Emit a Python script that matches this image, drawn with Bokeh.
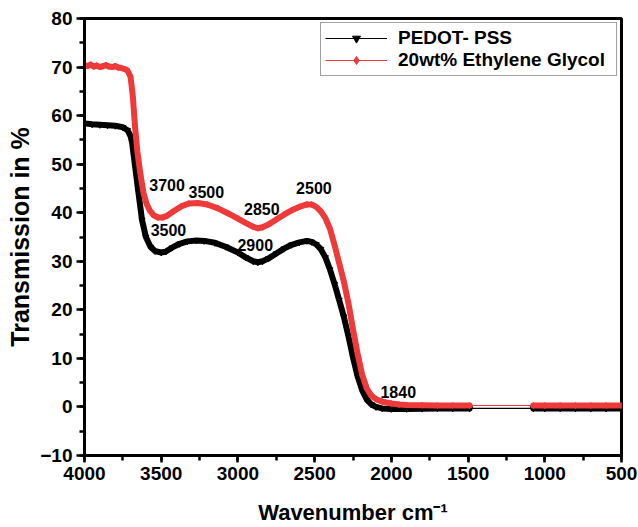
import numpy as np
from bokeh.plotting import figure
from bokeh.models import Range1d, SingleIntervalTicker, Legend, LegendItem, ColumnDataSource
from bokeh.core.properties import value
from bokeh.embed import file_html
from bokeh.resources import INLINE

# ---------------- data ----------------
wn_pedot = [4000, 3950, 3900, 3850, 3800, 3750, 3720, 3700, 3690, 3670, 3650, 3625,
            3600, 3570, 3540, 3500, 3470, 3430, 3380, 3330, 3270, 3220, 3150, 3080,
            3000, 2950, 2900, 2870, 2840, 2800, 2750, 2700, 2650, 2600, 2550, 2520,
            2490, 2460, 2430, 2400, 2370, 2340, 2310, 2280, 2250, 2220, 2190, 2160,
            2130, 2100, 2060, 2000, 1900, 1800, 1700, 1600, 1490,
            1075, 1000, 900, 800, 700, 600, 500]
t_pedot = [58.4, 58.2, 58.1, 58.0, 57.9, 57.6, 57.0, 55.8, 54.5, 49.5, 44.5, 38.5,
           35.0, 33.0, 32.1, 31.8, 32.0, 32.8, 33.6, 34.1, 34.3, 34.2, 33.8, 33.0,
           31.8, 30.8, 30.0, 29.8, 30.0, 30.6, 31.6, 32.6, 33.4, 33.9, 34.2, 34.0,
           33.5, 32.5, 30.8, 28.3, 25.3, 22.0, 18.6, 14.6, 10.2, 6.3, 3.4, 1.5,
           0.5, 0.0, -0.3, -0.4, -0.4, -0.35, -0.3, -0.3, -0.3,
           -0.3, -0.3, -0.3, -0.3, -0.3, -0.3, -0.3]

wn_eg = [4000, 3980, 3960, 3940, 3920, 3900, 3880, 3860, 3840, 3820, 3800, 3780,
         3760, 3740, 3720, 3700, 3685, 3670, 3655, 3635, 3615, 3595, 3575, 3550,
         3520, 3490, 3460, 3420, 3370, 3320, 3260, 3200, 3130, 3060, 3000, 2950,
         2900, 2870, 2840, 2800, 2750, 2700, 2650, 2600, 2550, 2520, 2490, 2460,
         2430, 2400, 2370, 2340, 2310, 2280, 2250, 2220, 2190, 2160, 2130, 2100,
         2060, 2000, 1950, 1900, 1800, 1700, 1600, 1490,
         1075, 1000, 900, 800, 700, 600, 500]
t_eg = [70.4, 70.2, 70.5, 70.1, 70.3, 70.0, 70.2, 70.4, 70.1, 70.0, 70.2, 69.9,
        69.8, 69.6, 69.3, 68.0, 64.0, 57.5, 52.5, 47.8, 44.0, 41.8, 40.5, 39.5,
        39.0, 39.0, 39.4, 40.3, 41.3, 41.9, 42.0, 41.7, 40.9, 39.8, 38.8, 37.9,
        37.1, 36.8, 37.0, 37.6, 38.6, 39.6, 40.5, 41.2, 41.7, 41.7, 41.2, 40.3,
        38.9, 36.7, 33.3, 29.6, 25.9, 21.4, 16.0, 11.0, 6.6, 3.8, 2.3, 1.6,
        1.1, 0.7, 0.5, 0.4, 0.35, 0.3, 0.3, 0.3,
        0.3, 0.3, 0.3, 0.3, 0.3, 0.3, 0.3]

# no measured points between these wavenumbers (only a thin connecting line)
gap_hi = 1490
gap_lo = 1075

series_names = ["PEDOT- PSS", "20wt% Ethylene Glycol"]

ann_text = ["3700", "3500", "3500", "2900", "2850", "2500", "1840"]
ann_x = [3462, 3206, 3453, 2887, 2844, 2505, 1955]
ann_y = [45.7, 44.3, 36.4, 33.3, 40.8, 45.1, 3.1]

FONT = "Liberation Sans"
RED = "#EE3A3A"


def thick_parts(wn, t):
    wn = np.asarray(wn, dtype=float)
    t = np.asarray(t, dtype=float)
    hi = wn >= gap_hi
    lo = wn <= gap_lo
    xs = np.concatenate([wn[hi], [np.nan], wn[lo]])
    ys = np.concatenate([t[hi], [np.nan], t[lo]])
    return xs, ys


p = figure(width=638, height=527,
           x_range=Range1d(4000, 500), y_range=Range1d(-10, 80),
           output_backend="svg", toolbar_location=None,
           min_border_left=84, min_border_right=17,
           min_border_top=18, min_border_bottom=72)

p.xgrid.visible = False
p.ygrid.visible = False
p.outline_line_color = "black"
p.outline_line_width = 3
p.outline_line_alpha = 1.0
p.background_fill_color = "white"
p.border_fill_color = "white"

p.xaxis.ticker = SingleIntervalTicker(interval=500, num_minor_ticks=2)
p.yaxis.ticker = SingleIntervalTicker(interval=10, num_minor_ticks=2)

for ax in (p.xaxis, p.yaxis):
    ax.axis_line_width = 3
    ax.axis_line_color = "black"
    ax.major_tick_line_width = 2.5
    ax.minor_tick_line_width = 2.5
    ax.major_tick_line_color = "black"
    ax.minor_tick_line_color = "black"
    ax.major_tick_in = 0
    ax.minor_tick_in = 0
    ax.minor_tick_out = 5
    ax.major_label_text_font = FONT
    ax.major_label_text_font_style = "bold"
    ax.major_label_text_font_size = "19px"
    ax.major_label_text_color = "black"
    ax.axis_label_text_font = FONT
    ax.axis_label_text_font_style = "bold"
    ax.axis_label_text_color = "black"

p.xaxis.major_tick_out = 7
p.yaxis.major_tick_out = 8
p.xaxis.axis_label = "Wavenumber cm\u207b\u00b9"
p.xaxis.axis_label_text_font_size = "22px"
p.xaxis.major_label_standoff = 4
p.xaxis.axis_label_standoff = 17
p.yaxis.axis_label = "Transmission in %"
p.yaxis.axis_label_text_font_size = "25px"
p.yaxis.major_label_standoff = 4
p.yaxis.axis_label_standoff = 3

# thin connecting lines (full series)
thin_b = p.line(wn_pedot, t_pedot, color="black", line_width=1.2)
thin_r = p.line(wn_eg, t_eg, color=RED, line_width=1.2)

# dense measured points -> thick bands with markers
xb, yb = thick_parts(wn_pedot, t_pedot)
xr, yr = thick_parts(wn_eg, t_eg)
p.line(xb, yb, color="black", line_width=6, line_join="round", line_cap="round")
mk_b = p.scatter(xb, yb, marker="inverted_triangle", size=6, color="black")
p.line(xr, yr, color=RED, line_width=6, line_join="round", line_cap="round")
mk_r = p.scatter(xr, yr, marker="diamond", size=6, color=RED)

# peak annotations
src = ColumnDataSource(dict(x=ann_x, y=ann_y, text=ann_text))
p.text(x="x", y="y", text="text", source=src, text_font=value(FONT),
       text_font_style="bold", text_font_size="16px", text_color="black",
       text_align="center", text_baseline="middle")

legend = Legend(items=[LegendItem(label=series_names[0], renderers=[thin_b, mk_b]),
                       LegendItem(label=series_names[1], renderers=[thin_r, mk_r])],
                location="top_right")
legend.margin = 4
legend.padding = 4
legend.spacing = 0
legend.glyph_width = 62
legend.glyph_height = 20
legend.label_height = 20
legend.label_standoff = 11
legend.label_width = 214
legend.label_text_font = FONT
legend.label_text_font_style = "bold"
legend.label_text_font_size = "19px"
legend.label_text_color = "black"
legend.border_line_color = "#444444"
legend.border_line_width = 1
legend.background_fill_alpha = 1.0
p.add_layout(legend)

open("out.html", "w").write(file_html(p, INLINE))
